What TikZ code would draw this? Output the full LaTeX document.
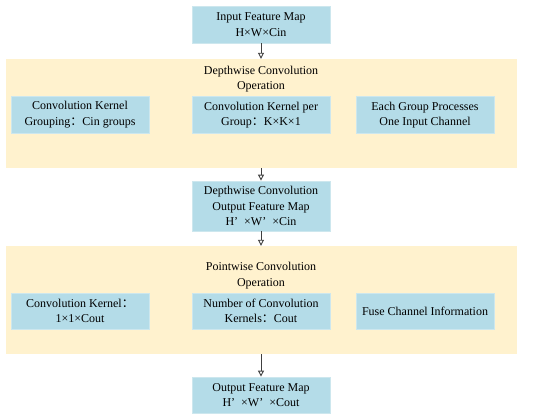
\documentclass[tikz,border=0pt]{standalone}
\usepackage{fontspec}
\setmainfont{Liberation Serif}
\newfontfamily\cjk{Noto Sans CJK SC}
\usetikzlibrary{arrows.meta}
\definecolor{boxblue}{RGB}{180,220,232}
\definecolor{boxedge}{RGB}{205,231,238}
\definecolor{panelfill}{RGB}{255,242,206}
\definecolor{arrowgray}{RGB}{64,64,64}
\newcommand{\fc}{{\cjk ：}}
\begin{document}
\begin{tikzpicture}[x=1pt,y=-1pt,
  bluebox/.style={draw=boxedge, line width=0.8pt, fill=boxblue, minimum width=138pt, inner sep=0pt, align=center,
     font=\fontsize{12}{15.5}\selectfont},
  panel/.style={fill=panelfill, draw=none, minimum width=511pt, inner sep=0pt},
  title/.style={align=center, inner sep=0pt, font=\fontsize{12}{15.5}\selectfont},
  flow/.style={draw=arrowgray, line width=0.9pt, -{Triangle[open, length=6pt, width=6pt]}}]
\useasboundingbox (0,0) rectangle (550,418);
% panels
\node[panel, minimum height=109pt] (p1) at (261.5,113.5) {};
\node[panel, minimum height=108pt] (p2) at (261.5,300) {};
% main boxes
\node[bluebox, minimum height=37pt] (in) at (261,24.5) {Input Feature Map\\H×W×Cin};
\node[bluebox, minimum height=50pt] (mid) at (261,206) {Depthwise Convolution\\Output Feature Map\\H’\enspace×W’\enspace×Cin};
\node[bluebox, minimum height=36pt] (out) at (261,395) {Output Feature Map\\H’\enspace×W’\enspace×Cout};
% titles
\node[title] (t1) at (261,79) {Depthwise Convolution\\Operation};
\node[title] (t2) at (261,275.5) {Pointwise Convolution\\Operation};
% depthwise sub boxes
\node[bluebox, minimum height=37pt] (d1) at (80,114.5) {Convolution Kernel\\Grouping\fc Cin groups};
\node[bluebox, minimum height=37pt] (d2) at (261,115) {Convolution Kernel per\\Group\fc K×K×1};
\node[bluebox, minimum height=37pt] (d3) at (425,115) {Each Group Processes\\One Input Channel};
% pointwise sub boxes
\node[bluebox, minimum height=36pt] (q1) at (80,311) {Convolution Kernel\fc\\1×1×Cout};
\node[bluebox, minimum height=36pt] (q2) at (261,311) {Number of Convolution\\Kernels\fc Cout};
\node[bluebox, minimum height=36pt] (q3) at (425,311) {Fuse Channel Information};
% arrows
\draw[flow] (in.south) -- (p1.north -| in.south);
\draw[flow] (p1.south -| mid.north) -- (mid.north);
\draw[flow] (mid.south) -- (p2.north -| mid.south);
\draw[flow] (p2.south -| out.north) -- (out.north);
\end{tikzpicture}
\end{document}
